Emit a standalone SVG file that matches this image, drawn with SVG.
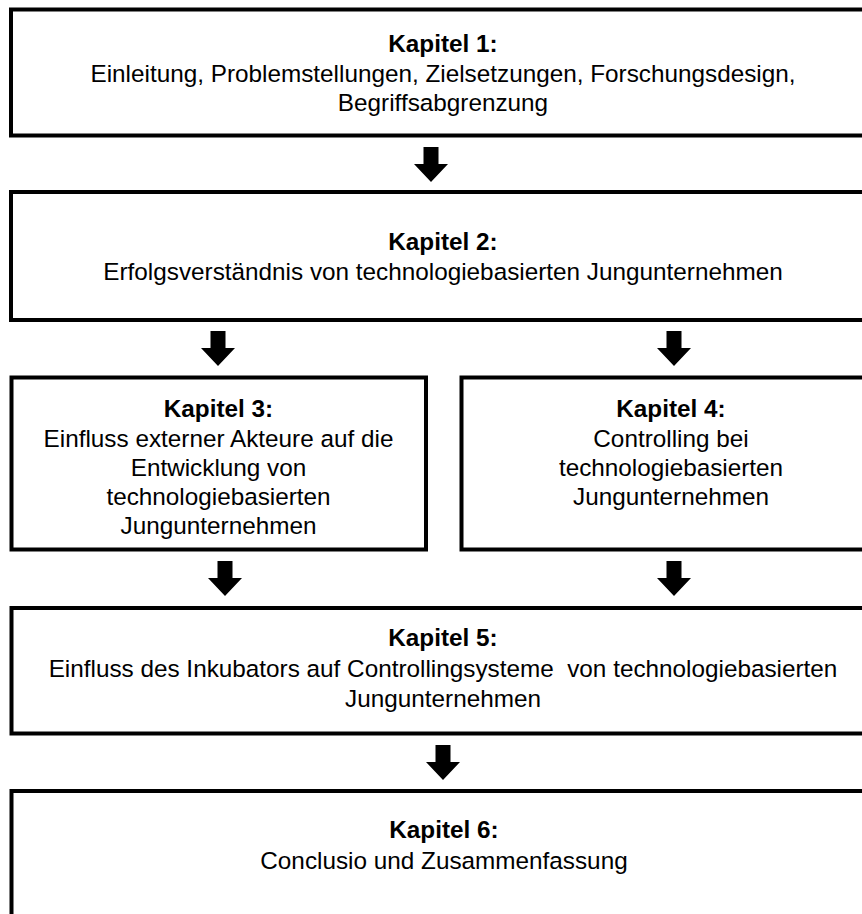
<svg xmlns="http://www.w3.org/2000/svg" width="862" height="914" viewBox="0 0 862 914">
  <style>
    .box { fill: #ffffff; stroke: #000000; stroke-width: 4; }
    .t { font-family: "Liberation Sans", Arial, sans-serif; font-size: 24.3px; fill: #000000; text-anchor: middle; white-space: pre; }
    .h { font-weight: bold; }
    .arrow { fill: #000000; }
  </style>
  <defs>
    <!-- block arrow pointing down, origin at the top centre of the shaft -->
    <path id="down" d="M -7.5 0 H 7.5 V 17 H 17 L 0 35 L -17 17 H -7.5 Z"/>
  </defs>
  <rect width="862" height="914" fill="#ffffff"/>

  <g id="connectors" class="arrow">
    <use href="#down" x="431" y="147"/>
    <use href="#down" x="218" y="331"/>
    <use href="#down" x="674" y="331"/>
    <use href="#down" x="225" y="561"/>
    <use href="#down" x="674" y="561"/>
    <use href="#down" x="443" y="745"/>
  </g>

  <g id="kapitel1">
    <rect class="box" x="11" y="9.5" width="864" height="126"/>
    <text class="t h" x="443" y="52">Kapitel 1:</text>
    <text class="t" x="443" y="82">Einleitung, Problemstellungen, Zielsetzungen, Forschungsdesign,</text>
    <text class="t" x="443" y="111">Begriffsabgrenzung</text>
  </g>

  <g id="kapitel2">
    <rect class="box" x="11" y="192" width="864" height="128"/>
    <text class="t h" x="443" y="250">Kapitel 2:</text>
    <text class="t" x="443" y="280">Erfolgsverständnis von technologiebasierten Jungunternehmen</text>
  </g>

  <g id="kapitel3">
    <rect class="box" x="11.5" y="377.5" width="414.5" height="172"/>
    <text class="t h" x="218.5" y="417">Kapitel 3:</text>
    <text class="t" x="218.5" y="447">Einfluss externer Akteure auf die</text>
    <text class="t" x="218.5" y="476">Entwicklung von</text>
    <text class="t" x="218.5" y="505">technologiebasierten</text>
    <text class="t" x="218.5" y="534">Jungunternehmen</text>
  </g>

  <g id="kapitel4">
    <rect class="box" x="461.5" y="377.5" width="420" height="172"/>
    <text class="t h" x="671" y="417">Kapitel 4:</text>
    <text class="t" x="671" y="447">Controlling bei</text>
    <text class="t" x="671" y="476">technologiebasierten</text>
    <text class="t" x="671" y="505">Jungunternehmen</text>
  </g>

  <g id="kapitel5">
    <rect class="box" x="11.5" y="608" width="864" height="125.5"/>
    <text class="t h" x="443" y="646">Kapitel 5:</text>
    <text class="t" x="443" y="677">Einfluss des Inkubators auf Controllingsysteme  von technologiebasierten</text>
    <text class="t" x="443" y="707">Jungunternehmen</text>
  </g>

  <g id="kapitel6">
    <rect class="box" x="11.5" y="791" width="864" height="140"/>
    <text class="t h" x="444" y="838">Kapitel 6:</text>
    <text class="t" x="444" y="869">Conclusio und Zusammenfassung</text>
  </g>
</svg>
